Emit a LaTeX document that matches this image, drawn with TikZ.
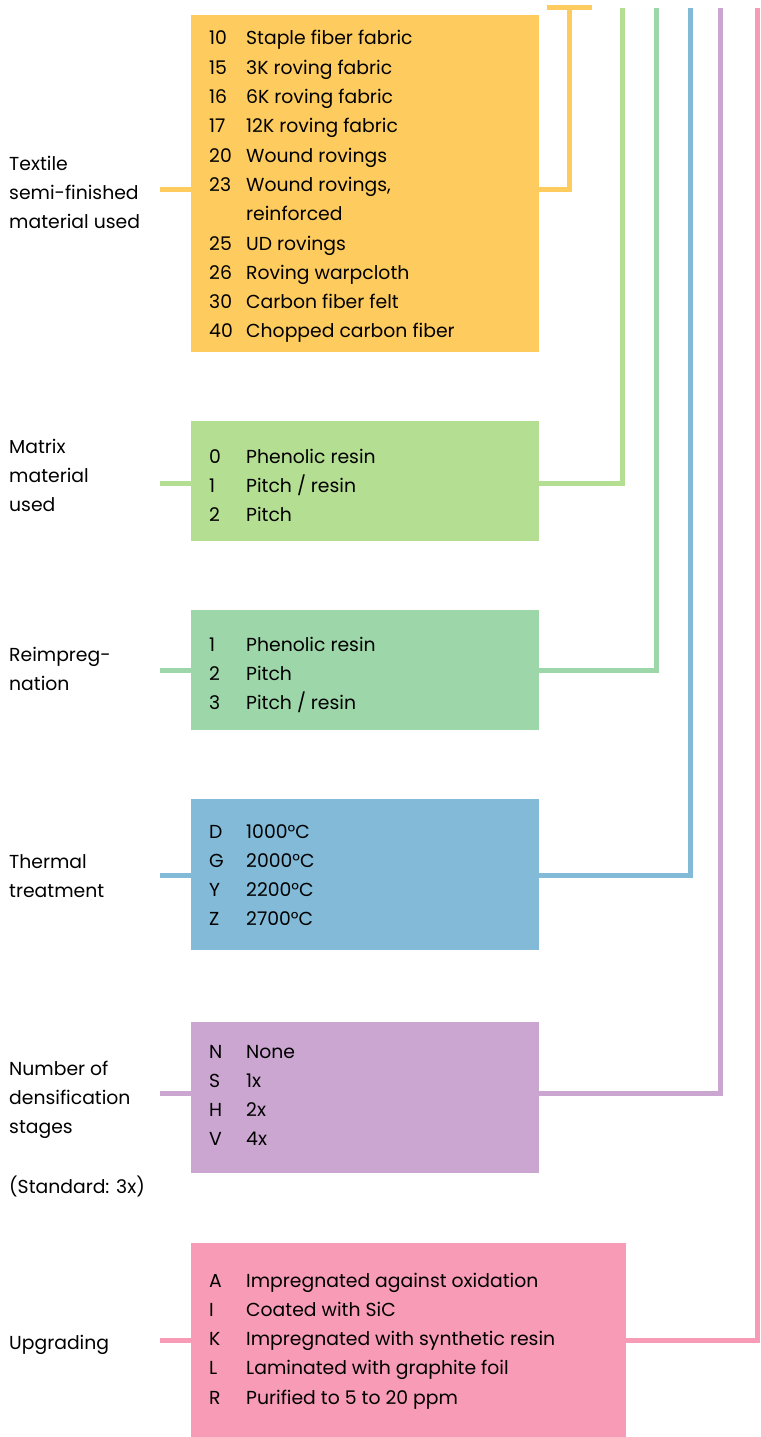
\documentclass[tikz,border=0pt]{standalone}
\usepackage{fontspec}
\setmainfont{Poppins}
\definecolor{cyel}{RGB}{254,203,94}
\definecolor{cgrn}{RGB}{180,222,146}
\definecolor{cteal}{RGB}{157,214,168}
\definecolor{cblue}{RGB}{130,186,216}
\definecolor{cpur}{RGB}{203,166,209}
\definecolor{cpink}{RGB}{247,155,183}
\definecolor{ink}{RGB}{0,0,0}
\newcommand{\cd}[1]{\makebox[37pt][l]{#1}}
\begin{document}
\begin{tikzpicture}[x=1pt,y=-1pt,
  panel/.style={rectangle,draw=none,inner sep=0pt,anchor=north west},
  conn/.style={line width=5pt,line join=miter},
  txt/.style={font=\fontsize{18.8}{29.3}\selectfont,inner sep=0pt,anchor=base west,text=ink}]
\useasboundingbox (0,0) rectangle (760,1437);
% panels
\node[panel,fill=cyel,minimum width=348,minimum height=337] (b1) at (191,15) {};
\node[panel,fill=cgrn,minimum width=348,minimum height=120] (b2) at (191,421) {};
\node[panel,fill=cteal,minimum width=348,minimum height=120] (b3) at (191,610) {};
\node[panel,fill=cblue,minimum width=348,minimum height=151] (b4) at (191,799) {};
\node[panel,fill=cpur,minimum width=348,minimum height=151] (b5) at (191,1022) {};
\node[panel,fill=cpink,minimum width=435,minimum height=194] (b6) at (191,1243) {};
% lists
\node[txt] (l1) at (209,45) {\begin{tabular}[t]{@{}l@{}}
\cd{10}Staple fiber fabric\\
\cd{15}3K roving fabric\\
\cd{16}6K roving fabric\\
\cd{17}12K roving fabric\\
\cd{20}Wound rovings\\
\cd{23}Wound rovings,\\
\cd{}reinforced\\
\cd{25}UD rovings\\
\cd{26}Roving warpcloth\\
\cd{30}Carbon fiber felt\\
\cd{40}Chopped carbon fiber\end{tabular}};
\node[txt] (l2) at (209,463) {\begin{tabular}[t]{@{}l@{}}
\cd{0}Phenolic resin\\
\cd{1}Pitch / resin\\
\cd{2}Pitch\end{tabular}};
\node[txt] (l3) at (209,651) {\begin{tabular}[t]{@{}l@{}}
\cd{1}Phenolic resin\\
\cd{2}Pitch\\
\cd{3}Pitch / resin\end{tabular}};
\node[txt] (l4) at (209,838) {\begin{tabular}[t]{@{}l@{}}
\cd{D}1000°C\\
\cd{G}2000°C\\
\cd{Y}2200°C\\
\cd{Z}2700°C\end{tabular}};
\node[txt] (l5) at (209,1058) {\begin{tabular}[t]{@{}l@{}}
\cd{N}None\\
\cd{S}1x\\
\cd{H}2x\\
\cd{V}4x\end{tabular}};
\node[txt] (l6) at (209,1287) {\begin{tabular}[t]{@{}l@{}}
\cd{A}Impregnated against oxidation\\
\cd{I}Coated with SiC\\
\cd{K}Impregnated with synthetic resin\\
\cd{L}Laminated with graphite foil\\
\cd{R}Purified to 5 to 20 ppm\end{tabular}};
% side labels
\node[txt] (h1) at (9,170) {\begin{tabular}[t]{@{}l@{}}Textile\\semi-finished\\material used\end{tabular}};
\node[txt] (h2) at (9,453) {\begin{tabular}[t]{@{}l@{}}Matrix\\material\\used\end{tabular}};
\node[txt] (h3) at (9,661) {\begin{tabular}[t]{@{}l@{}}Reimpreg-\\nation\end{tabular}};
\node[txt] (h4) at (9,868) {\begin{tabular}[t]{@{}l@{}}Thermal\\treatment\end{tabular}};
\node[txt] (h5) at (9,1075) {\begin{tabular}[t]{@{}l@{}}Number of\\densification\\stages\end{tabular}};
\node[txt] (h5b) at (9,1193) {(Standard: 3x)};
\node[txt] (h6) at (9,1349) {Upgrading};
% stub coordinates
\coordinate (s1) at (160,189);
\coordinate (s2) at (160,483);
\coordinate (s3) at (160,670);
\coordinate (s4) at (160,875);
\coordinate (s5) at (160,1093);
\coordinate (s6) at (160,1340);
% top ends
\coordinate (t1) at (569,8);
\coordinate (t2) at (622,8);
\coordinate (t3) at (656,8);
\coordinate (t4) at (690,8);
\coordinate (t5) at (720,8);
\coordinate (t6) at (757,8);
\coordinate (barL) at (547,8);
\coordinate (barR) at (592,8);
% connectors
\draw[conn,cyel] (s1) -- (s1 -| b1.west);
\draw[conn,cgrn] (s2) -- (s2 -| b2.west);
\draw[conn,cteal] (s3) -- (s3 -| b3.west);
\draw[conn,cblue] (s4) -- (s4 -| b4.west);
\draw[conn,cpur] (s5) -- (s5 -| b5.west);
\draw[conn,cpink] (s6) -- (s6 -| b6.west);
\draw[conn,cyel] (b1.east |- s1) -- (t1 |- s1) -- (t1);
\draw[conn,cyel] (barL) -- (barR);
\draw[conn,cgrn] (b2.east |- s2) -- (t2 |- s2) -- (t2);
\draw[conn,cteal] (b3.east |- s3) -- (t3 |- s3) -- (t3);
\draw[conn,cblue] (b4.east |- s4) -- (t4 |- s4) -- (t4);
\draw[conn,cpur] (b5.east |- s5) -- (t5 |- s5) -- (t5);
\draw[conn,cpink] (b6.east |- s6) -- (t6 |- s6) -- (t6);
\end{tikzpicture}
\end{document}
